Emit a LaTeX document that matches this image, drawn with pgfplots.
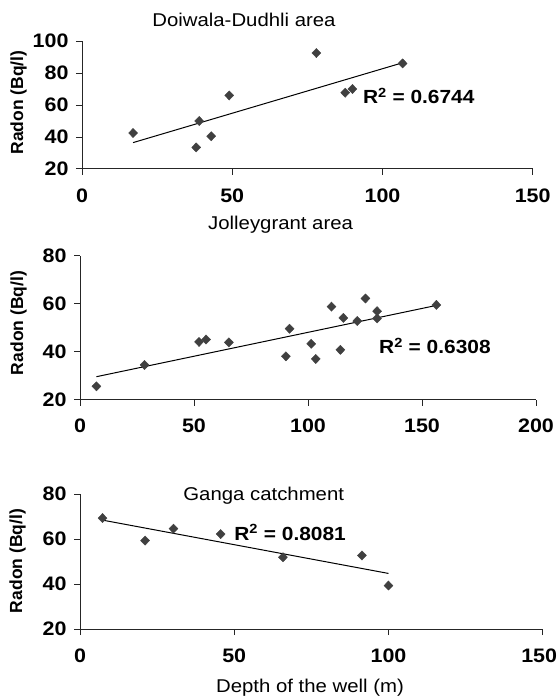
\documentclass[border=0pt]{standalone}
\usepackage{pgfplots}
\pgfplotsset{compat=1.18}
\usepackage{fontspec}
\setmainfont{Liberation Sans}[FakeStretch=1.1]
\newfontfamily\rotfont{Liberation Sans}
\definecolor{markgray}{HTML}{404040}

\pgfplotsset{
  radon/.style={
    scale only axis,
    axis x line=bottom, axis y line=left,
    axis line style={-, line width=1pt, black!85},
    tick style={black!85, line width=1pt},
    tick align=outside,
    major tick length=6pt,
    xtick distance=50, ytick distance=20,
    ticklabel style={font=\fontsize{19.5}{22}\selectfont\bfseries},
    xticklabel style={yshift=-10pt},
    yticklabel style={xshift=-4pt},
    /pgf/number format/assume math mode=true,
    anchor=south west,
    clip=false,
  },
  pts/.style={only marks, mark=diamond*, mark size=4.6pt,
    mark options={fill=markgray, draw=markgray, xscale=1.3}},
  fit/.style={no marks, black, line width=1pt},
}

\begin{document}
\begin{tikzpicture}
\path[use as bounding box] (0,0) rectangle (559pt,-700pt);

% Doiwala-Dudhli area
\begin{axis}[radon, at={(82pt,-169pt)}, width=450.7pt, height=128pt,
  xmin=0, xmax=150, ymin=20, ymax=100]
  \addplot[pts] coordinates {
    (17,42.5) (38,33.5) (39,50) (43,40.5) (49,66)
    (78,92.5) (87.6,67.7) (90,70) (106.7,86)
  };
  \addplot[fit] coordinates {(17,36.5) (106.7,86.4)};
\end{axis}

% Jolleygrant area
\begin{axis}[radon, at={(80pt,-399.5pt)}, width=456pt, height=144pt,
  xmin=0, xmax=200, ymin=20, ymax=80]
  \addplot[pts] coordinates {
    (7.2,25.5) (28.3,34.4) (52.2,44) (55.3,45) (65.3,43.8)
    (90.3,38) (91.9,49.5) (101.4,43.2) (103.4,36.9) (110.3,58.7)
    (114.2,40.7) (115.5,54) (121.6,52.7) (125.2,62.1) (130.3,56.8)
    (130.3,53.8) (156.3,59.4)
  };
  \addplot[fit] coordinates {(7.2,29.5) (156.3,59.2)};
\end{axis}

% Ganga catchment (last label nudged so it stays on the page)
\begin{axis}[radon, at={(80pt,-629pt)}, width=462.7pt, height=135pt,
  xmin=0, xmax=150, ymin=20, ymax=80,
  xtick={0,50,100}, extra x ticks={150},
  extra x tick style={xticklabel style={xshift=-3.5pt}}]
  \addplot[pts] coordinates {
    (7.3,69.3) (21.1,59.3) (30.3,64.6) (45.6,62.2)
    (65.8,51.9) (91.4,52.7) (100,39.3)
  };
  \addplot[fit] coordinates {(7.3,68.4) (100,44.7)};
\end{axis}

% titles and annotations
\begin{scope}[every node/.style={inner sep=0pt, font=\fontsize{18.5}{20}\selectfont}]
  \node[anchor=base] at (244pt,-26.7pt) {Doiwala-Dudhli area};
  \node[anchor=base] at (280.6pt,-230pt) {Jolleygrant area};
  \node[anchor=base] at (263.7pt,-500pt) {Ganga catchment};
  \node[anchor=base] at (310pt,-692.3pt) {Depth of the well (m)};
  \node[anchor=base west, font=\fontsize{19}{20}\selectfont\bfseries] at (362.8pt,-103.3pt) {R\textsuperscript{2} = 0.6744};
  \node[anchor=base west, font=\fontsize{19}{20}\selectfont\bfseries] at (379pt,-353.3pt) {R\textsuperscript{2} = 0.6308};
  \node[anchor=base west, font=\fontsize{19}{20}\selectfont\bfseries] at (234.2pt,-540pt) {R\textsuperscript{2} = 0.8081};
  \node[rotate=90, font=\rotfont\fontsize{17.5}{20}\selectfont\bfseries] at (18.5pt,-102.5pt) {Radon (Bq/l)};
  \node[rotate=90, font=\rotfont\fontsize{17.5}{20}\selectfont\bfseries] at (18.5pt,-323pt) {Radon (Bq/l)};
  \node[rotate=90, font=\rotfont\fontsize{17.5}{20}\selectfont\bfseries] at (17.5pt,-561pt) {Radon (Bq/l)};
\end{scope}
\end{tikzpicture}
\end{document}
